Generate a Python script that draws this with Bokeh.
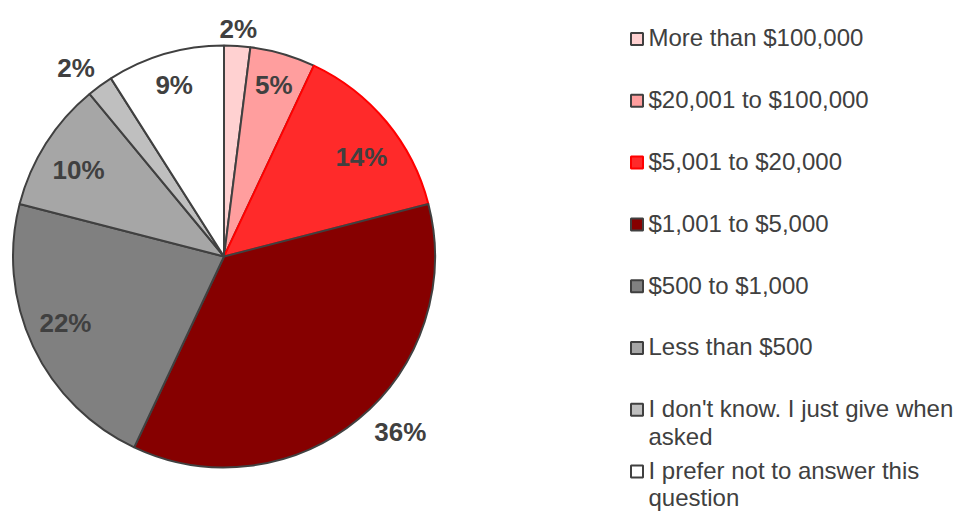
import numpy as np
from bokeh.plotting import figure
from bokeh.models import Range1d, ColumnDataSource
from bokeh.core.properties import value
from bokeh.embed import file_html
from bokeh.resources import INLINE

# ---- data ----
categories = [
    "More than $100,000",
    "$20,001 to $100,000",
    "$5,001 to $20,000",
    "$1,001 to $5,000",
    "$500 to $1,000",
    "Less than $500",
    "I don't know. I just give when asked",
    "I prefer not to answer this question",
]
shares = [2, 5, 14, 36, 22, 10, 2, 9]
pct_labels = ["2%", "5%", "14%", "36%", "22%", "10%", "2%", "9%"]
legend_lines = [
    ["More than $100,000"],
    ["$20,001 to $100,000"],
    ["$5,001 to $20,000"],
    ["$1,001 to $5,000"],
    ["$500 to $1,000"],
    ["Less than $500"],
    ["I don't know. I just give when", "asked"],
    ["I prefer not to answer this", "question"],
]

# ---- style ----
fills = ["#FFD1D1", "#FF9E9E", "#FF2A2A", "#860000", "#808080", "#A6A6A6", "#BFBFBF", "#FFFFFF"]
edges = ["#404040", "#404040", "#FF0000", "#404040", "#404040", "#404040", "#404040", "#404040"]
TXT = "#404040"
FONT = "Liberation Sans"

W, H = 954, 512


def X(sx):
    return sx


def Y(sy):
    return H - sy


p = figure(width=W, height=H, output_backend="svg", toolbar_location=None,
           x_range=Range1d(0, W), y_range=Range1d(0, H), min_border=0)
p.axis.visible = False
p.grid.visible = False
p.outline_line_color = None
p.background_fill_color = "white"

# ---- pie ----
cx, cy, R = X(223.5), Y(256), 211
vals = np.array(shares, dtype=float)
frac = vals / vals.sum()
c1 = np.cumsum(frac)
c0 = c1 - frac
start = np.pi / 2 - 2 * np.pi * c0
end = np.pi / 2 - 2 * np.pi * c1

src = ColumnDataSource(dict(start=start, end=end, fill=fills, edge=edges))
p.wedge(x=cx, y=cy, radius=R, radius_units="screen", start_angle="start", end_angle="end",
        direction="clock", fill_color="fill", line_color="edge", line_width=2, source=src)

# label placement (layout)
rf = [1.078, 0.847, 0.805, 1.178, 0.814, 0.802, 1.137, 0.846]
dth = np.radians([0, 0, 3.6, -5.6, 2.6, -1.7, -2.1, 0])
mid = 2 * np.pi * (c0 + c1) / 2 + dth
lx = cx + np.array(rf) * R * np.sin(mid)
ly = cy + np.array(rf) * R * np.cos(mid)
p.text(x=lx, y=ly, text=pct_labels, text_font=value(FONT), text_font_style="bold",
       text_font_size="26px", text_color=TXT, text_align="center", text_baseline="middle")

# ---- legend ----
row0, step, lh = 46, 61.8, 27.3
tx, ty, tt = [], [], []
sqy = []
for i, lines in enumerate(legend_lines):
    base = row0 + step * i
    sqy.append(Y(base - 7.5))
    for j, ln in enumerate(lines):
        tx.append(X(648))
        ty.append(Y(base + lh * j - 8.6))
        tt.append(ln)

p.rect(x=[X(636.5)] * len(fills), y=sqy, width=12, height=12, width_units="screen",
       height_units="screen", fill_color=fills, line_color=edges, line_width=2)
p.text(x=tx, y=ty, text=tt, text_font=value(FONT), text_font_size="24px", text_color=TXT,
       text_align="left", text_baseline="middle")

open("out.html", "w").write(file_html(p, INLINE))
